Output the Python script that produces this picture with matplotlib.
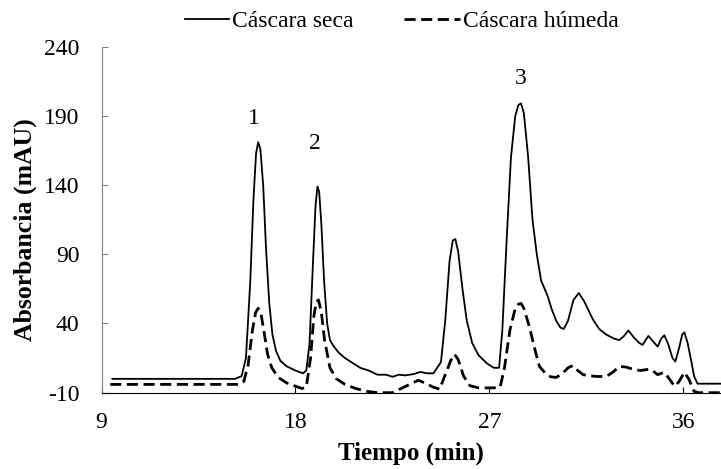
import numpy as np
import matplotlib
matplotlib.use("Agg")
import matplotlib.pyplot as plt

plt.rcParams["font.family"] = ["Liberation Serif", "DejaVu Serif"]
plt.rcParams["axes.unicode_minus"] = False

# Cáscara seca (solid)
seca_t = [9.5, 15.2, 15.5, 15.7, 15.9, 16.05, 16.17, 16.27, 16.37, 16.5, 16.63, 16.78,
          16.93, 17.1, 17.3, 17.6, 18.0, 18.35, 18.5, 18.65, 18.8, 18.93, 19.02, 19.1,
          19.2, 19.33, 19.47, 19.6, 19.75, 20.0, 20.3, 20.7, 21.0, 21.4, 21.8, 22.2,
          22.5, 22.8, 23.1, 23.5, 23.8, 24.1, 24.4, 24.75, 24.95, 25.15, 25.3, 25.42,
          25.55, 25.75, 25.95, 26.2, 26.5, 26.9, 27.2, 27.45, 27.6, 27.8, 28.0,
          28.2, 28.35, 28.47, 28.6, 28.8, 29.0, 29.2, 29.4, 29.7, 29.9, 30.1, 30.3,
          30.45, 30.65, 30.9, 31.15, 31.4, 31.8, 32.1, 32.42, 32.8, 33.03, 33.25,
          33.45, 33.7, 33.95, 34.11, 34.25, 34.38, 34.6, 34.81, 34.97, 35.12, 35.3,
          35.5, 35.63, 35.8, 35.95, 36.05, 36.2, 36.36, 36.5, 36.66, 37.8]
seca_y = [0, 0, 2, 15, 70, 130, 163, 171, 166, 140, 95, 55,
          32, 20, 13, 9, 6, 4, 6, 25, 80, 125, 139, 135,
          112, 70, 40, 28, 24, 19, 15, 11, 8, 6, 3, 3,
          1.5, 3, 2.5, 3.5, 5, 4, 4, 12, 42, 85, 100, 101,
          92, 65, 42, 26, 17, 11, 8, 8, 35, 100, 160,
          190, 198, 199, 192, 160, 115, 90, 71, 60, 50, 42, 37,
          36, 42, 57, 62, 56, 43, 36, 32, 29, 28, 31,
          35, 30, 26, 24.5, 28, 31, 27, 23.3, 29, 31.5, 25,
          15, 12.5, 22, 32, 33.6, 26, 13.6, 2, -3.5, -3.5]

# Cáscara húmeda (dashed)
humeda_t = [9.4, 15.4, 15.6, 15.8, 16.0, 16.15, 16.27, 16.4, 16.55, 16.7, 16.9, 17.2, 17.6,
            17.95, 18.3, 18.5, 18.7, 18.85, 18.97, 19.07, 19.2, 19.35, 19.6, 19.9, 20.3,
            20.8, 21.3, 21.8, 22.5, 22.9, 23.3, 23.7, 24.0, 24.4, 24.69, 24.95, 25.2,
            25.38, 25.55, 25.8, 26.1, 26.5, 27.2, 27.5, 27.7, 27.95, 28.2, 28.35, 28.47,
            28.6, 28.85, 29.1, 29.32, 29.6, 29.85, 30.1, 30.4, 30.65, 30.87, 31.1, 31.35,
            31.65, 32.0, 32.42, 32.75, 33.03, 33.35, 33.65, 34.0, 34.42, 34.65, 34.81,
            34.97, 35.12, 35.35, 35.6, 35.8, 36.05, 36.25, 36.5, 36.7, 37.8]
humeda_y = [-4, -4, -2, 10, 35, 48, 51, 47, 33, 18, 8, 1, -3,
            -5, -7, -6, 15, 45, 56, 57, 48, 28, 8, 0, -4,
            -7, -9, -10, -10, -7, -4, -1, -3, -6, -7.5, 3, 13,
            17.8, 14, 2, -5, -6.5, -6.5, -6, 8, 35, 51, 54, 54.5,
            51, 38, 22, 9, 4, 1.5, 1, 4, 8, 9.6, 6, 3,
            2.2, 1.7, 1.7, 5, 9, 8.5, 7, 6, 7, 5, 3,
            4, 4.7, 0, -5.4, -2, 4.7, 0, -9, -10, -10]

peak_labels = ["1", "2", "3"]
peak_t = [16.05, 18.92, 28.45]
peak_y = [188, 170, 217]

fig = plt.figure(figsize=(7.21, 4.69), dpi=100)
ax = fig.add_axes([0.1409, 0.1627, 0.8591, 0.7377])

l1, = ax.plot(seca_t, seca_y, color="black", lw=1.3)
l2, = ax.plot(humeda_t, humeda_y, color="black", lw=2, ls=(0, (4, 2)))

for lab, t, y in zip(peak_labels, peak_t, peak_y):
    ax.text(t, y, lab, ha="center", va="center", fontsize=17)

ax.set_xlim(9, 37.75)
ax.set_ylim(-10, 240)
ax.set_xticks([9, 18, 27, 36])
ax.set_yticks(np.arange(-10, 241, 50))
ax.tick_params(direction="in", length=4, labelsize=17)
ax.tick_params(axis="y", color="#808080", pad=16)
ax.tick_params(axis="x", pad=14)

for s in ["top", "right"]:
    ax.spines[s].set_visible(False)
ax.spines["left"].set_color("#808080")
ax.spines["bottom"].set_color("black")

ax.set_xlabel("Tiempo (min)", fontsize=18, fontweight="bold", labelpad=6)
ax.set_ylabel("Absorbancia (mAU)", fontsize=18.5, fontweight="bold", labelpad=3)
ax.yaxis.set_label_coords(-0.105, 0.47)

lg1 = fig.legend(handles=[l1], labels=["Cáscara seca"], loc="center left",
                 bbox_to_anchor=(0.256, 0.955), frameon=False, fontsize=17,
                 handlelength=1.9, handletextpad=0.1, borderaxespad=0, borderpad=0)
lg2 = fig.legend(handles=[l2], labels=["Cáscara húmeda"], loc="center left",
                 bbox_to_anchor=(0.56, 0.955), frameon=False, fontsize=17,
                 handlelength=2.4, handletextpad=0.1, borderaxespad=0, borderpad=0)

fig.savefig("out.png", dpi=100)
